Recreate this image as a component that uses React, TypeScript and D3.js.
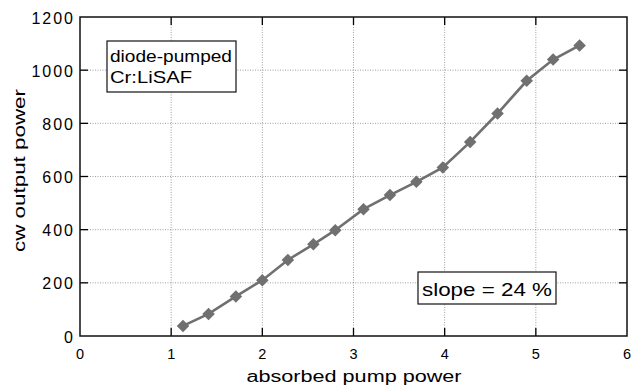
import React from 'react';
import * as d3 from 'd3';

const pumpPower = [1.13, 1.41, 1.71, 2.0, 2.28, 2.56, 2.8, 3.11, 3.4, 3.69, 3.98, 4.28, 4.58, 4.9, 5.19, 5.48];
const outputPower = [38, 83, 149, 210, 286, 345, 398, 477, 530, 580, 634, 730, 837, 960, 1040, 1093];
const xTicks = [0, 1, 2, 3, 4, 5, 6];
const yTicks = [0, 200, 400, 600, 800, 1000, 1200];

const width = 631;
const height = 387;
const margin = { left: 80, right: 4, top: 17, bottom: 51 };

const App = () => {
  const x = d3.scaleLinear().domain([0, 6]).range([margin.left, width - margin.right]);
  const y = d3.scaleLinear().domain([0, 1200]).range([height - margin.bottom, margin.top]);
  const points = pumpPower.map((p, i) => ({ p, w: outputPower[i] }));

  const line = d3.line<{ p: number; w: number }>()
    .x(d => x(d.p))
    .y(d => y(d.w));
  const diamond = d3.symbol().type(d3.symbolDiamond2).size(100)();

  const font = 'Arial, "Liberation Sans", Helvetica, sans-serif';
  const x0 = x(0), x1 = x(6), y0 = y(0), y1 = y(1200);
  const tick = 8;

  return (
    <svg width={width} height={height} style={{ position: 'absolute', left: 0, top: 0, background: '#fff' }} fontFamily={font}>
      {/* grid */}
      {xTicks.slice(1, -1).map(t => (
        <line key={'gx' + t} x1={x(t)} x2={x(t)} y1={y1} y2={y0} stroke="#888" strokeWidth={0.8} strokeDasharray="1,1.5" />
      ))}
      {yTicks.slice(1, -1).map(t => (
        <line key={'gy' + t} x1={x0} x2={x1} y1={y(t)} y2={y(t)} stroke="#888" strokeWidth={0.8} strokeDasharray="1,1.5" />
      ))}

      {/* ticks on every side, pointing in */}
      {xTicks.slice(1, -1).map(t => (
        <g key={'tx' + t} stroke="#000" strokeWidth={1.3}>
          <line x1={x(t)} x2={x(t)} y1={y0} y2={y0 - tick} />
          <line x1={x(t)} x2={x(t)} y1={y1} y2={y1 + tick} />
        </g>
      ))}
      {yTicks.slice(1, -1).map(t => (
        <g key={'ty' + t} stroke="#000" strokeWidth={1.3}>
          <line x1={x0} x2={x0 + tick} y1={y(t)} y2={y(t)} />
          <line x1={x1} x2={x1 - tick} y1={y(t)} y2={y(t)} />
        </g>
      ))}

      <rect x={x0} y={y1} width={x1 - x0} height={y0 - y1} fill="none" stroke="#111" strokeWidth={1.5} />

      {/* tick labels */}
      {xTicks.map(t => (
        <text key={'lx' + t} x={x(t)} y={y0 + 22.5} textAnchor="middle" fontSize={14.5}>{t}</text>
      ))}
      {yTicks.map(t => (
        <text key={'ly' + t} x={x0 - 5} y={y(t) + 6.5} textAnchor="end" fontSize={16} letterSpacing={2}>{t}</text>
      ))}

      {/* axis titles */}
      <text x={354} y={382} textAnchor="middle" fontSize={16} textLength={215} lengthAdjust="spacingAndGlyphs">absorbed pump power</text>
      <text transform="translate(25,170.5) rotate(-90)" textAnchor="middle" fontSize={17} textLength={163} lengthAdjust="spacingAndGlyphs">cw output power</text>

      {/* data */}
      <path d={line(points) ?? ''} fill="none" stroke="#707070" strokeWidth={2.6} />
      {points.map((d, i) => (
        <path key={i} d={diamond ?? ''} transform={`translate(${x(d.p)},${y(d.w)})`} fill="#707070" />
      ))}

      {/* annotation boxes */}
      <rect x={107} y={41} width={129} height={51} fill="#fff" stroke="#111" strokeWidth={1.2} />
      <text x={110} y={62} fontSize={17} textLength={122} lengthAdjust="spacingAndGlyphs">diode-pumped</text>
      <text x={110} y={83} fontSize={17} textLength={82} lengthAdjust="spacingAndGlyphs">Cr:LiSAF</text>

      <rect x={418} y={272} width={138} height={32} fill="#fff" stroke="#111" strokeWidth={1.2} />
      <text x={422} y={296} fontSize={19} textLength={130} lengthAdjust="spacingAndGlyphs">slope = 24 %</text>
    </svg>
  );
};

export default App;
